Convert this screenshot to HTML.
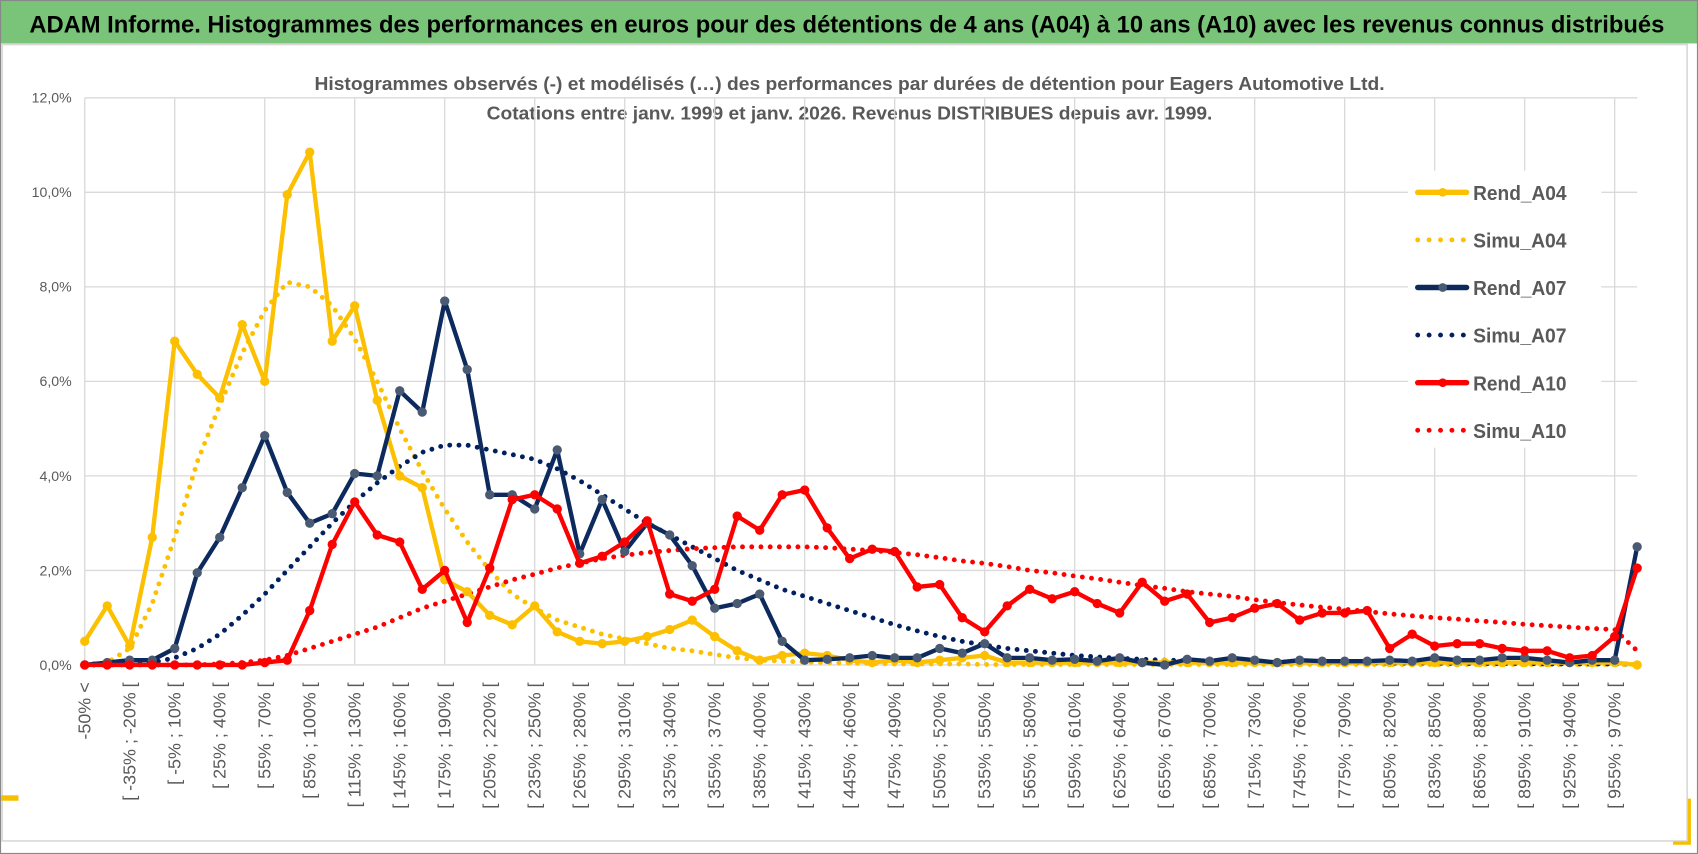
<!DOCTYPE html>
<html><head><meta charset="utf-8"><style>
html,body{margin:0;padding:0;background:#fff;overflow:hidden}
svg{display:block}
text{font-family:"Liberation Sans",sans-serif}
</style></head><body>
<svg id="chart" width="1698" height="854" viewBox="0 0 1563 786" preserveAspectRatio="none" xmlns="http://www.w3.org/2000/svg">
<rect x="0" y="0" width="1563" height="786" fill="#fff"/>
<rect x="0" y="0" width="1563" height="40" fill="#7ac47a"/>
<text x="27" y="30" font-size="22" font-weight="bold" fill="#000" textLength="1505" lengthAdjust="spacingAndGlyphs">ADAM Informe. Histogrammes des performances en euros pour des détentions de 4 ans (A04) à 10 ans (A10) avec les revenus connus distribués</text>
<rect x="2" y="41" width="1551" height="733" fill="none" stroke="#d9d9d9" stroke-width="1.5"/>
<rect x="0.5" y="0.5" width="1562" height="785" fill="none" stroke="#888" stroke-width="1"/>
<rect x="1" y="732" width="16" height="5" fill="#f5c000"/>
<path d="M1555 735 V776 H1540" fill="none" stroke="#f5c000" stroke-width="3"/>
<text x="782" y="83" font-size="17" font-weight="bold" fill="#595959" text-anchor="middle" textLength="985" lengthAdjust="spacingAndGlyphs">Histogrammes observés (-) et modélisés (…) des performances par durées de détention pour Eagers Automotive Ltd.</text>
<text x="782" y="110" font-size="17" font-weight="bold" fill="#595959" text-anchor="middle" textLength="668" lengthAdjust="spacingAndGlyphs">Cotations entre janv. 1999 et janv. 2026. Revenus DISTRIBUES depuis avr. 1999.</text>
<g id="grid"></g>
<g id="xlabels"></g>
<g id="ylabels"></g>
<g id="series"></g>
<g id="legend"></g>
</svg>
<script>
const categoriesCount = 70;
const yTicks = [0,2,4,6,8,10,12];
const yTickLabels = ["0,0%","2,0%","4,0%","6,0%","8,0%","10,0%","12,0%"];
const rendA04 = [0.5,1.25,0.4,2.7,6.85,6.15,5.65,7.2,6.0,9.95,10.85,6.85,7.6,5.6,4.0,3.75,1.8,1.55,1.05,0.85,1.25,0.7,0.5,0.45,0.5,0.6,0.75,0.95,0.6,0.3,0.1,0.2,0.25,0.2,0.1,0.05,0.1,0.05,0.1,0.15,0.2,0.05,0.05,0.05,0.05,0.05,0.05,0.05,0.05,0.05,0.05,0.05,0.05,0.05,0.05,0.05,0.05,0.05,0.05,0.05,0.05,0.05,0.05,0.05,0.05,0.05,0.05,0.05,0.05,0.0];
const simuA04 = [0.02,0.05,0.35,1.3,2.7,4.3,5.5,6.6,7.5,8.1,8.0,7.6,6.9,6.0,5.0,4.1,3.3,2.6,2.0,1.5,1.2,0.95,0.8,0.65,0.55,0.45,0.35,0.3,0.22,0.15,0.1,0.08,0.06,0.05,0.04,0.03,0.02,0.02,0.02,0.02,0.01,0.01,0.01,0.01,0.01,0.01,0.01,0.01,0.01,0.01,0.01,0.01,0.01,0.01,0.01,0.01,0.01,0.01,0.01,0.01,0.01,0.01,0.01,0.01,0.01,0.01,0.01,0.01,0.01,0.01];
const rendA07 = [0,0.05,0.1,0.1,0.35,1.95,2.7,3.75,4.85,3.65,3.0,3.2,4.05,4.0,5.8,5.35,7.7,6.25,3.6,3.6,3.3,4.55,2.35,3.5,2.4,3.0,2.75,2.1,1.2,1.3,1.5,0.5,0.1,0.12,0.15,0.2,0.15,0.15,0.35,0.25,0.45,0.15,0.15,0.1,0.12,0.08,0.15,0.05,0.0,0.12,0.08,0.15,0.1,0.05,0.1,0.08,0.08,0.08,0.1,0.08,0.15,0.1,0.1,0.15,0.15,0.1,0.05,0.1,0.1,2.5];
const simuA07 = [0,0,0.02,0.05,0.15,0.35,0.65,1.05,1.5,2.0,2.5,3.0,3.45,3.85,4.2,4.5,4.65,4.65,4.55,4.45,4.35,4.15,3.9,3.6,3.3,3.0,2.75,2.5,2.25,2.0,1.8,1.6,1.45,1.3,1.15,1.0,0.85,0.72,0.6,0.5,0.42,0.35,0.3,0.25,0.2,0.17,0.14,0.12,0.1,0.09,0.08,0.07,0.07,0.06,0.06,0.05,0.05,0.05,0.04,0.04,0.04,0.03,0.03,0.03,0.03,0.02,0.02,0.02,0.02,0.02];
const rendA10 = [0,0,0,0,0,0,0,0,0.05,0.1,1.15,2.55,3.45,2.75,2.6,1.6,2.0,0.9,2.05,3.5,3.6,3.3,2.15,2.3,2.6,3.05,1.5,1.35,1.6,3.15,2.85,3.6,3.7,2.9,2.25,2.45,2.4,1.65,1.7,1.0,0.7,1.25,1.6,1.4,1.55,1.3,1.1,1.75,1.35,1.5,0.9,1.0,1.2,1.3,0.95,1.1,1.1,1.15,0.35,0.65,0.4,0.45,0.45,0.35,0.3,0.3,0.15,0.2,0.6,2.05];
const simuA10 = [0,0,0,0,0,0,0.02,0.05,0.1,0.2,0.35,0.5,0.65,0.8,1.0,1.2,1.35,1.5,1.65,1.8,1.92,2.05,2.15,2.25,2.32,2.38,2.42,2.46,2.48,2.5,2.5,2.5,2.5,2.48,2.45,2.42,2.38,2.33,2.27,2.2,2.15,2.08,2.0,1.95,1.88,1.82,1.75,1.68,1.62,1.55,1.5,1.45,1.38,1.32,1.27,1.22,1.18,1.13,1.08,1.04,1.0,0.97,0.93,0.9,0.86,0.83,0.8,0.77,0.75,0.3];
const seriesNames = ["Rend_A04","Simu_A04","Rend_A07","Simu_A07","Rend_A10","Simu_A10"];

const NS = "http://www.w3.org/2000/svg";
const X0 = 78, X1 = 1507, Y0 = 612, PERPCT = 43.5;
function xPos(i){ return X0 + i * (X1 - X0) / (categoriesCount - 1); }
function yPos(v){ return Y0 - v * PERPCT; }
function catLabel(i){
  if (i === 0) return "-50% <";
  const a = -50 + 15 * (i - 1);
  return "[ " + a + "% ; " + (a + 15) + "% [";
}
function mk(tag, attrs, parent){
  const e = document.createElementNS(NS, tag);
  for (const k in attrs) e.setAttribute(k, attrs[k]);
  parent.appendChild(e);
  return e;
}
const grid = document.getElementById("grid");
const xl = document.getElementById("xlabels");
const yl = document.getElementById("ylabels");
const sg = document.getElementById("series");
const lg = document.getElementById("legend");

yTicks.forEach((t, k) => {
  const ln = mk("line", {x1: X0, x2: X1, y1: yPos(t), y2: yPos(t), stroke: "#d9d9d9", "stroke-width": 1.2}, grid);
  
  
  const tx = mk("text", {x: 66, y: yPos(t) + 4.5, "font-size": 13, fill: "#595959", "text-anchor": "end"}, yl);
  tx.textContent = yTickLabels[k];
  
  
});
for (let i = 0; i < categoriesCount; i += 4) {
  const ln = mk("line", {x1: xPos(i), x2: xPos(i), y1: yPos(12), y2: Y0, stroke: "#d9d9d9", "stroke-width": 1.2}, grid);
  
  
}
for (let i = 0; i < categoriesCount; i += 2) {
  const x = xPos(i) + 5.5, y = 628;
  const tx = mk("text", {x: x, y: y, "font-size": 16.5, fill: "#595959", "text-anchor": "end", transform: "rotate(-90 " + x + " " + y + ")"}, xl);
  tx.textContent = catLabel(i);
  
  
}
function pts(arr){ return arr.map((v, i) => xPos(i).toFixed(1) + "," + yPos(v).toFixed(1)).join(" "); }
function dotted(arr, color, name){
  const p = mk("polyline", {points: pts(arr), fill: "none", stroke: color, "stroke-width": 4.5, "stroke-linecap": "round", "stroke-dasharray": "0 8.5"}, sg);
  
  
}
function solid(arr, color, mcolor, name){
  const g = mk("g", {}, sg);
  
  
  mk("polyline", {points: pts(arr), fill: "none", stroke: color, "stroke-width": 4, "stroke-linejoin": "round"}, g);
  arr.forEach((v, i) => {
    const c = mk("circle", {cx: xPos(i), cy: yPos(v), r: 3.8, fill: mcolor, stroke: mcolor}, g);
    
    
  });
}
dotted(simuA04, "#fcc000", "simu-a04-line");
dotted(simuA07, "#002060", "simu-a07-line");
dotted(simuA10, "#ff0000", "simu-a10-line");
solid(rendA04, "#fcc000", "#fcc000", "rend-a04-line");
solid(rendA07, "#0d2a5e", "#4a5a72", "rend-a07-line");
solid(rendA10, "#ff0000", "#ff0000", "rend-a10-line");

mk("rect", {x: 1296, y: 157, width: 178, height: 255, fill: "#fff"}, lg);
const legColors = ["#fcc000","#fcc000","#0d2a5e","#002060","#ff0000","#ff0000"];
const legMarker = ["#fcc000",null,"#4a5a72",null,"#ff0000",null];
seriesNames.forEach((n, k) => {
  const y = 177 + k * 43.8;
  const g = mk("g", {}, lg);
  
  
  if (k % 2 === 0) {
    mk("line", {x1: 1305, x2: 1350, y1: y, y2: y, stroke: legColors[k], "stroke-width": 5, "stroke-linecap": "round"}, g);
    mk("circle", {cx: 1328, cy: y, r: 4, fill: legMarker[k]}, g);
  } else {
    mk("line", {x1: 1305, x2: 1350, y1: y, y2: y, stroke: legColors[k], "stroke-width": 4.5, "stroke-linecap": "round", "stroke-dasharray": "0 10.5"}, g);
  }
  const tx = mk("text", {x: 1356, y: y + 7, "font-size": 19, "font-weight": "bold", fill: "#595959", textLength: 86, lengthAdjust: "spacingAndGlyphs"}, g);
  tx.textContent = n;
});
</script>
</body></html>
